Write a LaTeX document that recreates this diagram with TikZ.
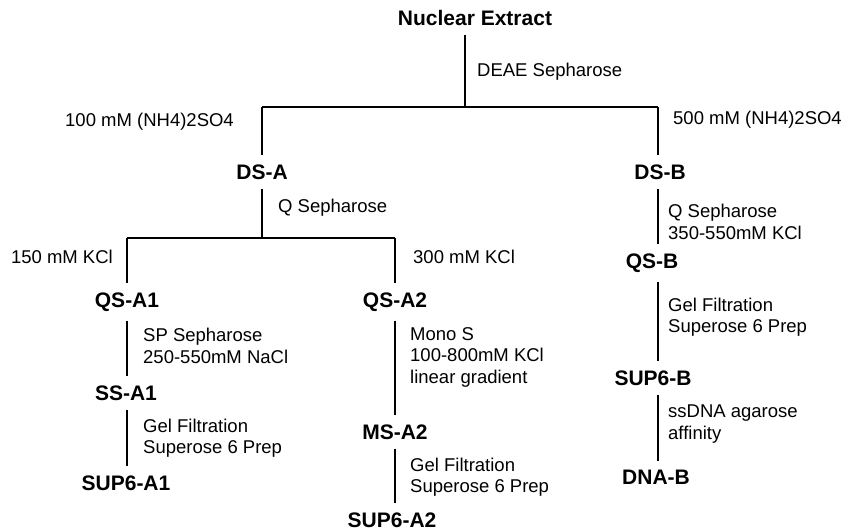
\documentclass[tikz,border=0pt]{standalone}
\usepackage{fontspec}
\setmainfont{Liberation Sans}
\usetikzlibrary{positioning}

\begin{document}
\begin{tikzpicture}[x=1pt,y=-1pt,
    frac/.style={font=\fontsize{21}{24}\selectfont\bfseries,inner sep=9pt},
    cond/.style={font=\fontsize{18.5}{21.5}\selectfont,align=left,inner sep=0pt,anchor=west},
    link/.style={line width=1.8pt}]
  \useasboundingbox (0,0) rectangle (848,530);
  % fractions
  \node[frac] (ne)     at (475,18)  {Nuclear Extract};
  \node[frac] (dsa)    at (262,172) {DS-A};
  \node[frac] (dsb)    at (660,172) {DS-B};
  \node[frac] (qsa1)   at (127,302) {QS-A1};
  \node[frac] (qsa2)   at (395,302) {QS-A2};
  \node[frac] (ssa1)   at (126,393) {SS-A1};
  \node[frac] (msa2)   at (395,432) {MS-A2};
  \node[frac] (sup6a1) at (126,483) {SUP6-A1};
  \node[frac] (sup6a2) at (392,520) {SUP6-A2};
  \node[frac] (qsb)    at (652,263) {QS-B};
  \node[frac] (sup6b)  at (653,378) {SUP6-B};
  \node[frac] (dnab)   at (656,477) {DNA-B};
  % junctions and columns
  \coordinate (b1) at (465,107);
  \coordinate (b2) at (262,238);
  \coordinate (ca) at (127,0);
  \coordinate (cm) at (395,0);
  \coordinate (cb) at (658,0);
  % connectors
  \draw[link] (ne.south -| b1) -- (b1);
  \draw[link] (dsa |- b1) -- (cb |- b1);
  \draw[link] (dsa |- b1) -- (dsa);
  \draw[link] (cb |- b1) -- (cb |- dsb.north);
  \draw[link] (dsa) -- (b2);
  \draw[link] (qsa1 |- b2) -- (qsa2 |- b2);
  \draw[link] (qsa1 |- b2) -- (qsa1);
  \draw[link] (qsa2 |- b2) -- (qsa2);
  \draw[link] (qsa1.south -| ca) -- (ssa1.north -| ca);
  \draw[link] (ssa1.south -| ca) -- (sup6a1.north -| ca);
  \draw[link] (qsa2.south -| cm) -- (msa2.north -| cm);
  \draw[link] (msa2.south -| cm) -- (sup6a2.north -| cm);
  \draw[link] (dsb.south -| cb) -- (qsb.north -| cb);
  \draw[link] (qsb.south -| cb) -- (sup6b.north -| cb);
  \draw[link] (sup6b.south -| cb) -- (dnab.north -| cb);
  % conditions
  \node[cond] (deae) at (477,72) {DEAE Sepharose};
  \node[cond,anchor=east] (am1) at (234,122) {100 mM (NH4)2SO4};
  \node[cond] (am2) at (673,120) {500 mM (NH4)2SO4};
  \node[cond] (qsep) at (278,208) {Q Sepharose};
  \node[cond,anchor=east] (kcl1) at (113,257) {150 mM KCl};
  \node[cond] (kcl2) at (413,257) {300 mM KCl};
  \node[cond] (spsep) at (143,346) {SP Sepharose\\250-550mM NaCl};
  \node[cond] (gfa1) at (143,438) {Gel Filtration\\Superose 6 Prep};
  \node[cond] (monos) at (410,357) {Mono S\\100-800mM KCl\\linear gradient};
  \node[cond] (gfa2) at (410,477) {Gel Filtration\\Superose 6 Prep};
  \node[cond] (qsepb) at (668,222) {Q Sepharose\\350-550mM KCl};
  \node[cond] (gfb) at (668,317) {Gel Filtration\\Superose 6 Prep};
  \node[cond] (ssdna) at (668,424) {ssDNA agarose\\affinity};
\end{tikzpicture}
\end{document}
